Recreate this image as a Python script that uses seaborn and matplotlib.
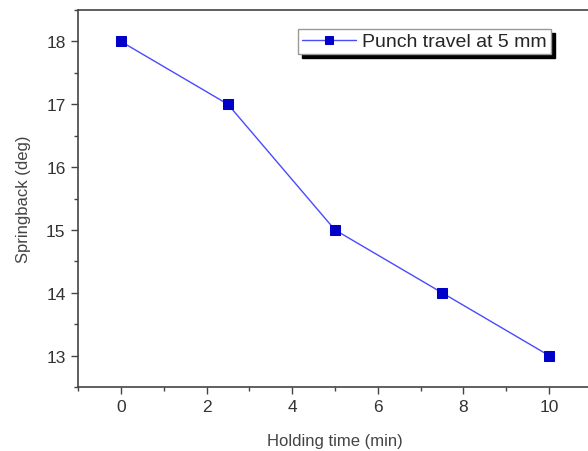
"""Springback vs holding time figure."""

import matplotlib

matplotlib.use("Agg")
import matplotlib.pyplot as plt
import pandas as pd
import seaborn as sns
from matplotlib.ticker import MultipleLocator

holding_time = [0, 2.5, 5, 7.5, 10]
springback = [18, 17, 15, 14, 13]
series_label = "Punch travel at 5 mm"

df = pd.DataFrame({"time": holding_time, "springback": springback, "series": series_label})

sns.set_style("ticks")
plt.rcParams["font.family"] = ["Liberation Sans", "DejaVu Sans"]

fig = plt.figure(figsize=(5.88, 4.52), dpi=100)
ax = fig.add_axes([0.1327, 0.1416, 0.874, 0.834])

sns.lineplot(
    data=df,
    x="time",
    y="springback",
    hue="series",
    palette=["#4a4aff"],
    marker="s",
    markersize=6.5,
    markerfacecolor="#0000c8",
    markeredgecolor="#0000c8",
    linewidth=1.0,
    ax=ax,
)

ax.set_xlim(-1, 11)
ax.set_ylim(12.5, 18.5)
ax.xaxis.set_major_locator(MultipleLocator(2))
ax.xaxis.set_minor_locator(MultipleLocator(1))
ax.yaxis.set_major_locator(MultipleLocator(1))
ax.yaxis.set_minor_locator(MultipleLocator(0.5))
ax.tick_params(which="both", direction="out", top=False, right=False, colors="#444444",
               labelcolor="#333333", labelsize=12.5)
ax.tick_params(which="major", length=5, width=1, pad=4)
ax.tick_params(which="minor", length=3, width=1)
for side in ["left", "bottom", "top"]:
    ax.spines[side].set_color("#444444")
    ax.spines[side].set_linewidth(1.2)
ax.spines["right"].set_visible(False)

ax.set_xlabel("Holding time (min)", fontsize=12, color="#444444", labelpad=13)
ax.set_ylabel("Springback (deg)", fontsize=12, color="#444444", labelpad=11)

handles, labels = ax.get_legend_handles_labels()
for h in handles:
    h.set_markersize(5.5)
ax.legend(
    handles,
    labels,
    loc="upper left",
    bbox_to_anchor=(0.428, 0.95),
    borderaxespad=0,
    fontsize=14,
    frameon=True,
    fancybox=False,
    shadow={"color": "black", "alpha": 1.0, "ox": 3, "oy": -3},
    edgecolor="#999999",
    framealpha=1,
    handlelength=2.8,
    handletextpad=0.3,
    borderpad=0.2,
)

fig.savefig("out.png", dpi=100)
